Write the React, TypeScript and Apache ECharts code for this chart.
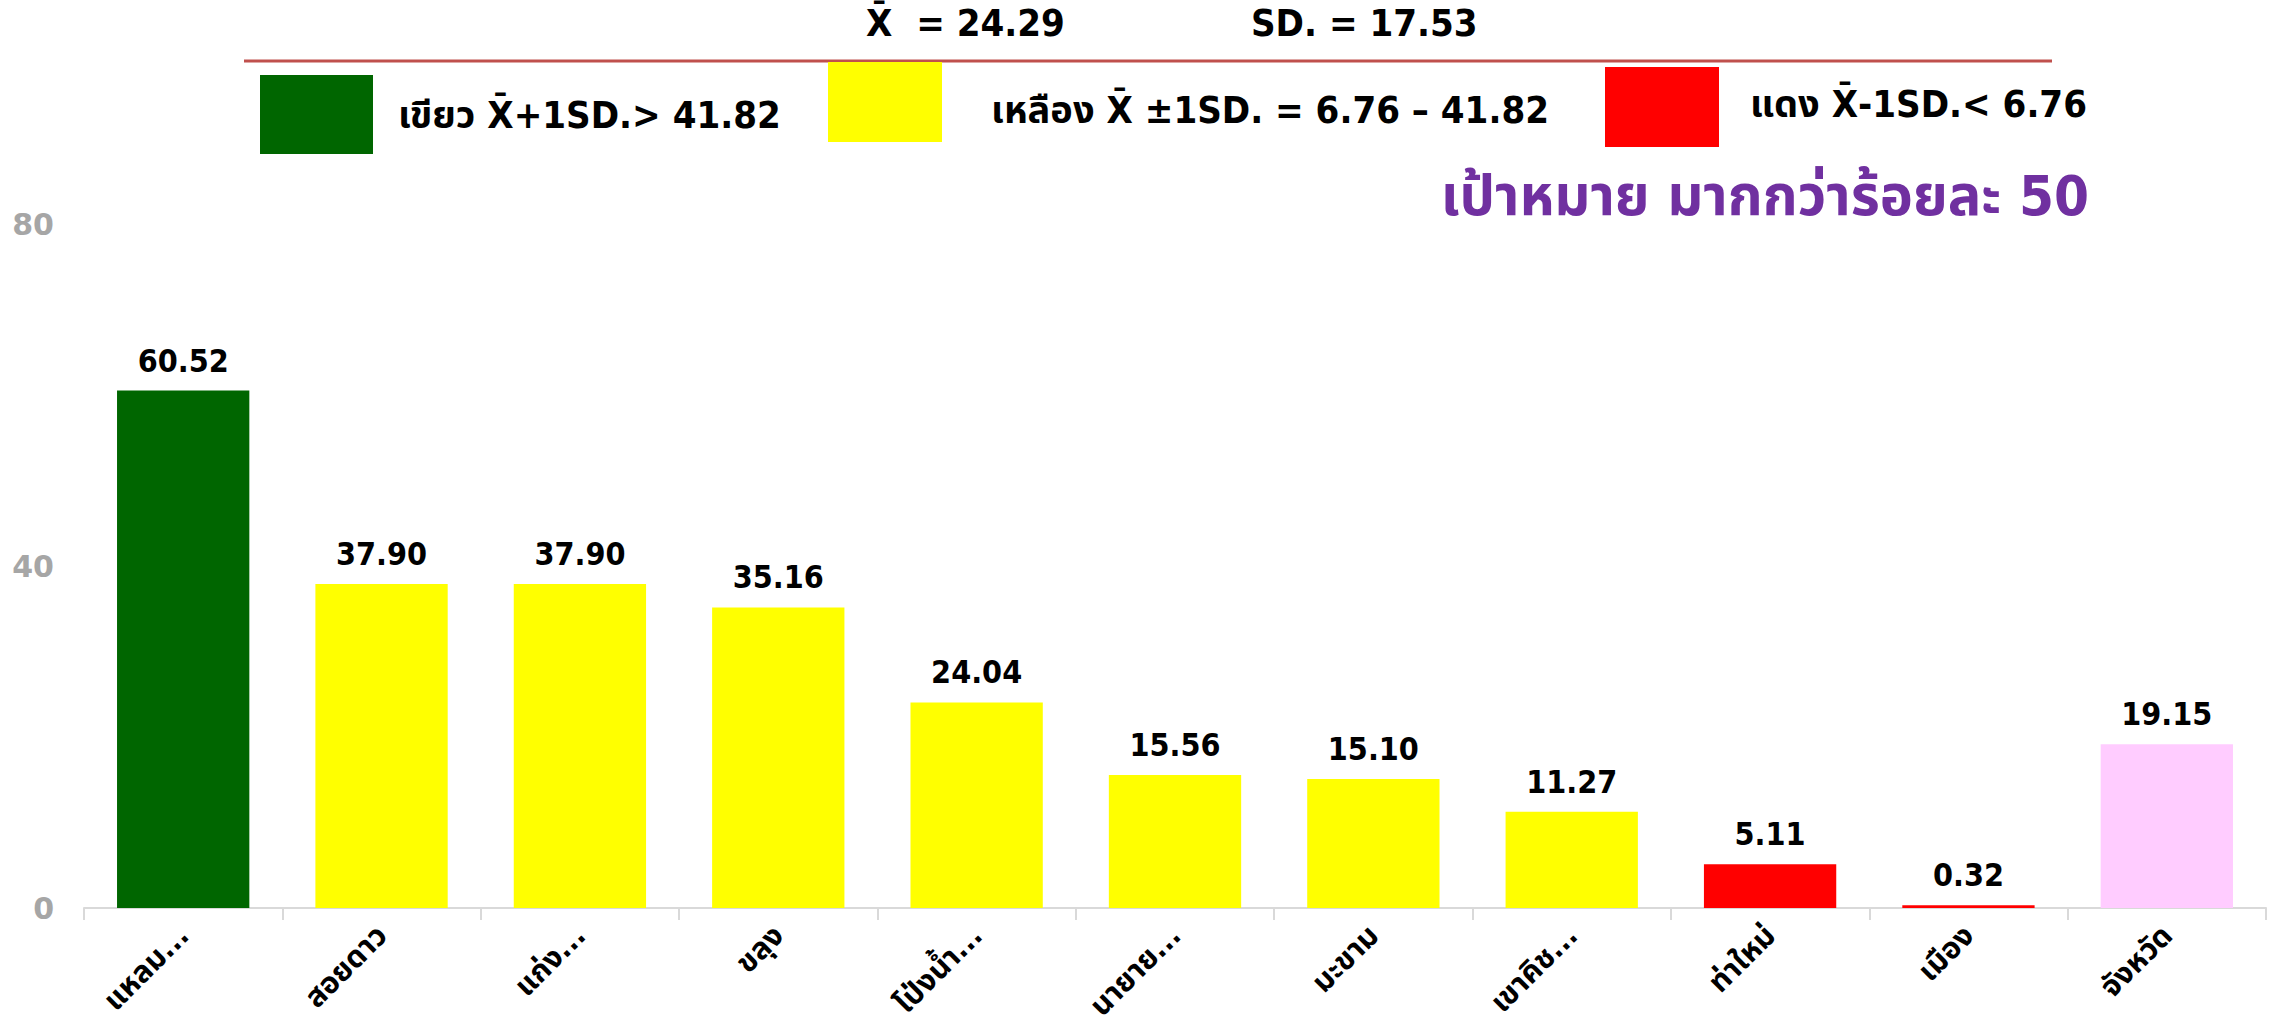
import React, { useEffect, useRef } from "react";
import * as echarts from "echarts";

const categories = ["แหลม...", "สอยดาว", "แก่ง...", "ขลุง", "โป่งน้ำ...", "นายาย...", "มะขาม", "เขาคิช...", "ท่าใหม่", "เมือง", "จังหวัด"];
const values = [60.52, 37.9, 37.9, 35.16, 24.04, 15.56, 15.1, 11.27, 5.11, 0.32, 19.15];
const meanValue = "24.29";
const sdValue = "17.53";
const upperLimit = 41.82;
const lowerLimit = 6.76;
const totalCategory = "จังหวัด";
const yTicks = [0, 40, 80];
const targetText = "เป้าหมาย มากกว่าร้อยละ 50";

const COND = "'DejaVu Sans Condensed', Tahoma, 'Noto Sans Thai', 'Noto Sans', sans-serif";
const WIDE = "'DejaVu Sans', Verdana, sans-serif";

function colorFor(cat: string, v: number): string {
  if (cat === totalCategory) return "#FFCCFF";
  if (v > upperLimit) return "#006600";
  if (v < lowerLimit) return "#FF0000";
  return "#FFFF00";
}

export default function App() {
  const ref = useRef<HTMLDivElement>(null);
  useEffect(() => {
    if (!ref.current) return;
    const chart = echarts.init(ref.current, undefined, { renderer: "svg" });
    const textStyle = (size: number, color = "#000") => ({
      fill: color,
      font: `bold ${size}px ${COND}`,
    });
    chart.setOption({
      animation: false,
      backgroundColor: "#ffffff",
      grid: {
        left: 84,
        right: 9,
        top: 224,
        bottom: 116,
        containLabel: false,
        outerBoundsMode: "none",
      },
      xAxis: {
        type: "category",
        data: categories,
        axisLine: { lineStyle: { color: "#D9D9D9", width: 2 } },
        axisTick: { show: true, length: 12, lineStyle: { color: "#D9D9D9", width: 2 } },
        axisLabel: {
          rotate: 45,
          interval: 0,
          margin: 22,
          color: "#000",
          fontSize: 30,
          fontWeight: "bold",
          fontFamily: COND,
        },
      },
      yAxis: {
        type: "value",
        min: yTicks[0],
        max: yTicks[yTicks.length - 1],
        interval: yTicks[1] - yTicks[0],
        splitLine: { show: false },
        axisLine: { show: false },
        axisTick: { show: false },
        axisLabel: {
          margin: 30,
          color: "#A6A6A6",
          fontSize: 30,
          fontWeight: "bold",
          fontFamily: WIDE,
        },
      },
      series: [
        {
          type: "bar",
          barWidth: "66.7%",
          data: values.map((v, i) => ({
            value: v,
            itemStyle: { color: colorFor(categories[i], v) },
          })),
          label: {
            show: true,
            position: "top",
            distance: 14,
            color: "#000",
            fontSize: 32,
            fontWeight: "bold",
            fontFamily: COND,
            formatter: (p: any) => Number(p.value).toFixed(2),
          },
        },
      ],
      graphic: [
        { type: "text", left: 866, top: 4, style: { text: `X\u0304  = ${meanValue}`, ...textStyle(38) } },
        { type: "text", left: 1251, top: 4, style: { text: `SD. = ${sdValue}`, ...textStyle(38) } },
        {
          type: "line",
          shape: { x1: 244, y1: 61, x2: 2052, y2: 61 },
          style: { stroke: "#C0504D", lineWidth: 3 },
        },
        { type: "rect", shape: { x: 260, y: 75, width: 113, height: 79 }, style: { fill: "#006600" } },
        { type: "text", left: 398, top: 96, style: { text: `เขียว X\u0304+1SD.> ${upperLimit.toFixed(2)}`, ...textStyle(38) } },
        { type: "rect", shape: { x: 828, y: 62, width: 114, height: 80 }, style: { fill: "#FFFF00" } },
        {
          type: "text",
          left: 991,
          top: 91,
          style: { text: `เหลือง X\u0304 ±1SD. = ${lowerLimit.toFixed(2)} – ${upperLimit.toFixed(2)}`, ...textStyle(38) },
        },
        { type: "rect", shape: { x: 1605, y: 67, width: 114, height: 80 }, style: { fill: "#FF0000" } },
        { type: "text", left: 1750, top: 85, style: { text: `แดง X\u0304-1SD.< ${lowerLimit.toFixed(2)}`, ...textStyle(38) } },
        {
          type: "text",
          right: 2275 - 2089,
          top: 167,
          style: { text: targetText, ...textStyle(56, "#7030A0") },
        },
      ],
    });
    return () => chart.dispose();
  }, []);
  return (
    <div
      ref={ref}
      style={{ position: "absolute", left: 0, top: 0, width: 2275, height: 1024 }}
    />
  );
}
